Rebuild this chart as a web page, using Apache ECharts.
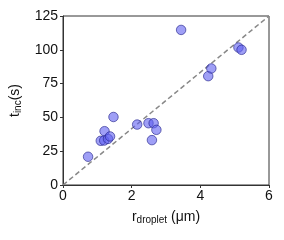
<!DOCTYPE html>
<html><head><meta charset="utf-8">
<script src="https://cdn.jsdelivr.net/npm/echarts@6/dist/echarts.min.js"></script>
<style>html,body{margin:0;padding:0;background:#fff}#c{width:284px;height:240px}</style>
</head><body><div id="c"></div>
<script>
var rDroplet = [0.73, 1.10, 1.20, 1.21, 1.31, 1.37, 1.47, 2.16, 2.49, 2.64, 2.59, 2.72, 3.44, 4.23, 4.32, 5.11, 5.20];
var tInc     = [20.9, 32.7, 32.9, 39.8, 34.1, 35.9, 50.3, 44.7, 45.7, 45.7, 33.2, 40.8, 114.7, 80.5, 86.2, 101.7, 100.0];
var refLineX = [0, 6];
var refLineY = [0, 125];
var xTicks = [0, 2, 4, 6];
var yTicks = [0, 25, 50, 75, 100, 125];

var pts = rDroplet.map(function(x, i){ return [x, tInc[i]]; });
var line = refLineX.map(function(x, i){ return [x, refLineY[i]]; });
var chart = echarts.init(document.getElementById('c'));
var font = 'Liberation Sans, Arial, sans-serif';
chart.setOption({
  animation: false,
  grid: {left: 62, right: 15, top: 16, bottom: 55, show: true, borderColor: '#333', borderWidth: 1},
  xAxis: {
    type: 'value', min: 0, max: 6, interval: 2,
    name: '{m|r}{s|droplet}{m| (μm)}', nameLocation: 'middle', nameGap: 24,
    nameTextStyle: {rich: {m: {fontSize: 14, fontFamily: font, color: '#111'}, s: {fontSize: 10, fontFamily: font, color: '#111', verticalAlign: 'bottom', padding: [6,0,0,0]}}},
    axisLine: {show: true, lineStyle: {color: '#333'}},
    axisTick: {show: true, length: 3, lineStyle: {color: '#333'}},
    axisLabel: {fontSize: 14, fontFamily: font, color: '#111', margin: 4},
    splitLine: {show: false}
  },
  yAxis: {
    type: 'value', min: 0, max: 125, interval: 25,
    name: '{m|t}{s|inc}{m|(s)}', nameLocation: 'middle', nameGap: 40, nameRotate: 90,
    nameTextStyle: {rich: {m: {fontSize: 14, fontFamily: font, color: '#111'}, s: {fontSize: 10, fontFamily: font, color: '#111', verticalAlign: 'bottom', padding: [6,0,0,0]}}},
    axisLine: {show: true, lineStyle: {color: '#333'}},
    axisTick: {show: true, length: 3, lineStyle: {color: '#333'}},
    axisLabel: {fontSize: 14, fontFamily: font, color: '#111', margin: 5},
    splitLine: {show: false}
  },
  series: [
    {type: 'line', data: line, symbol: 'none', silent: true,
     lineStyle: {color: '#888', width: 1.5, type: [5, 3]}, z: 1},
    {type: 'scatter', data: pts, symbolSize: 9.5, z: 2,
     itemStyle: {color: 'rgba(95,95,240,0.75)', borderColor: '#22228a', borderWidth: 0.8}}
  ]
});
</script></body></html>
